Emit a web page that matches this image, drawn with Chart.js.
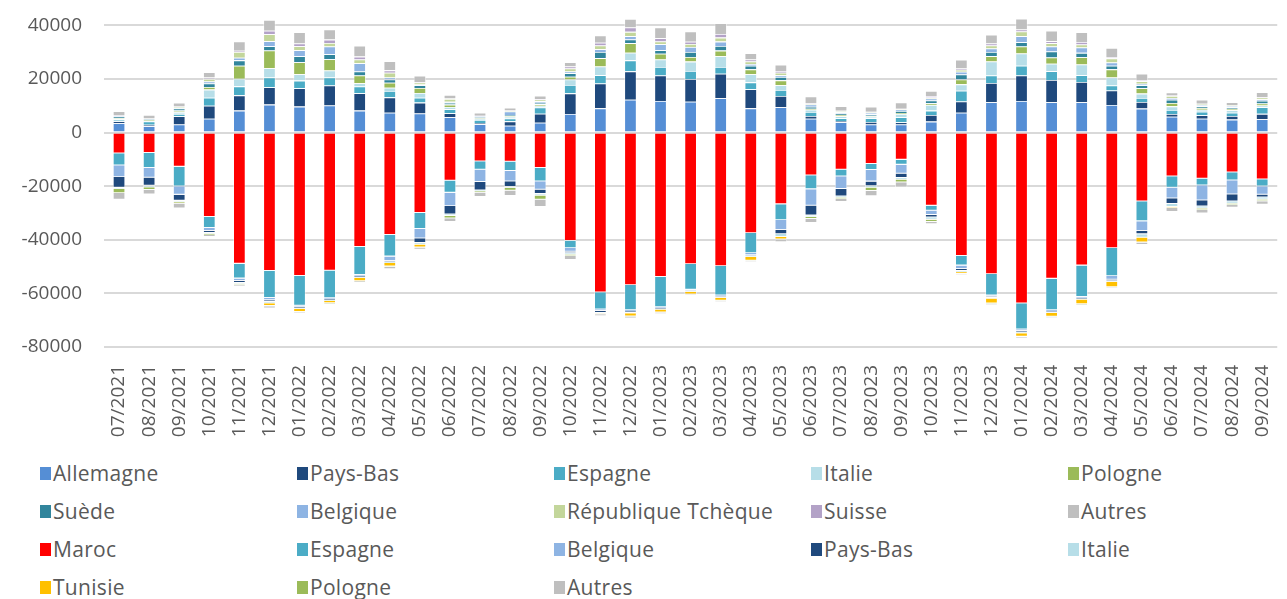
<!DOCTYPE html>
<html lang="fr">
<head>
<meta charset="utf-8">
<script src="https://cdn.jsdelivr.net/npm/chart.js@4"></script>
<style>
  html, body { margin: 0; padding: 0; background: #fff; overflow: hidden; width: 1287px; height: 599px; }
  #wrap { position: absolute; left: 0; top: -8px; width: 1295px; height: 455px; }
  #legende {
    position: absolute; left: 40px; top: 454px; width: 1290px;
    display: grid; grid-template-columns: repeat(5, 257px); grid-auto-rows: 38px;
    font-family: "Open Sans", sans-serif; font-size: 21px; letter-spacing: 0.3px; color: #595959;
  }
  #legende div { display: flex; align-items: center; white-space: nowrap; }
  #legende span.box { display: inline-block; width: 11px; height: 13px; margin-right: 2px; }
</style>
</head>
<body>
<div id="wrap"><canvas id="chartFlux" width="1295" height="455"></canvas></div>
<div id="legende"></div>
<script>
// Mois
const mois = ["07/2021","08/2021","09/2021","10/2021","11/2021","12/2021",
  "01/2022","02/2022","03/2022","04/2022","05/2022","06/2022","07/2022","08/2022","09/2022","10/2022","11/2022","12/2022",
  "01/2023","02/2023","03/2023","04/2023","05/2023","06/2023","07/2023","08/2023","09/2023","10/2023","11/2023","12/2023",
  "01/2024","02/2024","03/2024","04/2024","05/2024","06/2024","07/2024","08/2024","09/2024"];

// Importations (valeurs positives)
const impAllemagne = [3500,2400,3000,5200,8200,10450,9700,10100,8200,7450,7100,5700,3100,2600,3700,6950,9050,12300,11800,11550,12800,9050,9450,5200,3850,3000,3000,4100,7450,11300,11800,11300,11300,10300,8950,5950,5200,4850,5000];
const impPaysBas   = [750,500,3100,4850,5700,6500,6850,7450,6500,5700,4100,1500,500,1600,3350,7700,9300,10550,9550,8450,9200,7100,4200,1000,500,1000,870,2500,4200,7200,9550,8300,7600,5450,2500,1000,1250,1350,2000];
const impEspagne   = [600,1250,900,3000,3350,3600,2850,3000,2500,2350,1850,1500,1100,1100,2350,3100,3100,4100,3100,3000,2500,2600,2250,1500,1000,1350,1850,1600,4000,2850,3600,3350,2500,1850,1500,1500,1350,1250,2500];
const impItalie    = [300,200,750,3000,2850,3500,2350,2600,1250,1250,1750,870,370,620,620,2100,3250,2850,2850,3500,4000,3000,1750,870,750,620,1250,2100,2350,5200,4600,2750,4000,3000,1600,1350,750,870,620];
const impPologne   = [300,250,500,1000,4850,6600,4500,4250,2850,1850,1850,870,250,250,620,1000,3100,3600,2100,1750,2100,1850,1850,300,500,300,370,620,1850,2000,2600,2350,2750,3000,2000,1250,620,620,750];
const impSuede     = [500,350,750,1250,2000,1600,2250,1850,1500,1250,1000,750,500,370,500,1350,2250,1350,1350,1850,1750,1350,1250,750,500,620,750,1100,1850,1500,1600,2250,1600,1350,1100,1250,620,500,1000];
const impBelgique  = [200,200,250,750,1000,1850,2250,2850,3100,750,300,300,250,1350,620,620,1100,1250,2250,1850,1600,620,620,870,500,500,500,750,1000,1350,2250,1850,2000,1250,620,620,500,500,620];
const impTcheque   = [150,100,400,1000,2100,2600,1500,1350,1350,1750,750,1100,150,300,620,1100,1350,1600,1000,1100,1500,1000,1000,300,370,300,200,300,750,1100,1750,1250,1100,1500,870,750,300,250,620];
const impSuisse    = [100,50,100,500,500,1350,1000,1250,1100,870,200,100,100,100,200,750,1000,1600,1250,870,1350,750,620,200,150,100,150,620,500,750,750,750,1000,370,500,200,200,150,200];
const impAutres    = [1600,1250,1400,2000,3500,4000,4250,3750,4100,3400,2350,1350,1100,1000,1200,1600,2750,3200,4000,3850,4000,2350,2350,2500,1750,1850,2350,1850,3250,3250,4000,3850,3600,3500,2350,1100,1500,1000,1750];

// Exportations (valeurs négatives)
const expMaroc     = [-7700,-7500,-12700,-31400,-48900,-51550,-53400,-51500,-42600,-38100,-29900,-17900,-10700,-10800,-13150,-40350,-59600,-56900,-53800,-49050,-49800,-37500,-26700,-15900,-13800,-11600,-10100,-27250,-45950,-52800,-63700,-54500,-49550,-43100,-25600,-16300,-17150,-14800,-17400];
const expEspagne   = [-4500,-5600,-7350,-4100,-5500,-10100,-11100,-10200,-10450,-8100,-6000,-4500,-3100,-3500,-5000,-2750,-6350,-9300,-11300,-9550,-10900,-7450,-5950,-5200,-2500,-2250,-1850,-1850,-3600,-7950,-9700,-11700,-11700,-10450,-7450,-4200,-2500,-3000,-2600];
const expBelgique  = [-4350,-3700,-3100,-1100,-870,-870,-500,-400,-500,-1600,-3500,-5000,-4600,-3850,-3100,-1250,-500,-500,-370,-370,-500,-750,-3600,-6100,-4700,-4350,-3350,-1600,-1250,-370,-500,-500,-500,-1250,-3600,-4000,-5600,-5200,-3100];
const expPaysBas   = [-4000,-3000,-2250,-750,-750,-620,-500,-400,-370,-500,-1750,-3100,-3100,-2100,-1600,-500,-750,-500,-300,-250,-250,-200,-1600,-3700,-2750,-1750,-1600,-870,-750,-500,-620,-300,-250,-620,-1250,-2100,-2250,-2600,-1000];
const expItalie    = [-500,-600,-500,-400,-370,-500,-250,-250,-200,-370,-620,-500,-370,-370,-500,-500,-300,-250,-250,-200,-200,-500,-1000,-620,-500,-500,-620,-870,-500,-250,-370,-300,-250,-250,-1250,-1100,-750,-870,-750];
const expTunisie   = [0,0,-100,-100,-200,-1000,-1100,-870,-1250,-1250,-1000,-100,0,0,-100,-100,-100,-1100,-1000,-870,-1000,-1350,-1000,0,0,0,0,-100,-500,-1850,-1250,-1350,-1750,-2000,-1750,-370,-100,0,-100];
const expPologne   = [-1500,-900,-500,-350,-250,-200,-150,-150,-100,-200,-100,-870,-500,-1000,-1500,-620,-200,-100,-100,-100,-100,-100,-100,-620,-500,-1250,-1000,-750,-100,-100,-100,-100,-100,-100,-100,-100,-500,-500,-620];
const expAutres    = [-2400,-1700,-1750,-650,-500,-750,-400,-400,-620,-750,-750,-1350,-1600,-2000,-2700,-1350,-620,-620,-500,-370,-370,-370,-870,-1500,-1100,-2000,-1850,-870,-370,-500,-370,-370,-370,-370,-870,-1350,-1250,-1000,-1250];

// Couleurs
const C = {
  bleu: "#558ed5", marine: "#1f497d", turquoise: "#4bacc6", pale: "#b7dee8",
  vert: "#9bbb59", sarcelle: "#31859c", ciel: "#8eb4e3", vertClair: "#c3d69b",
  lavande: "#b3a2c7", gris: "#bfbfbf", rouge: "#ff0000", jaune: "#ffc000"
};

const series = [
  ["Allemagne", impAllemagne, C.bleu],
  ["Pays-Bas", impPaysBas, C.marine],
  ["Espagne", impEspagne, C.turquoise],
  ["Italie", impItalie, C.pale],
  ["Pologne", impPologne, C.vert],
  ["Suède", impSuede, C.sarcelle],
  ["Belgique", impBelgique, C.ciel],
  ["République Tchèque", impTcheque, C.vertClair],
  ["Suisse", impSuisse, C.lavande],
  ["Autres", impAutres, C.gris],
  ["Maroc", expMaroc, C.rouge],
  ["Espagne", expEspagne, C.turquoise],
  ["Belgique", expBelgique, C.ciel],
  ["Pays-Bas", expPaysBas, C.marine],
  ["Italie", expItalie, C.pale],
  ["Tunisie", expTunisie, C.jaune],
  ["Pologne", expPologne, C.vert],
  ["Autres", expAutres, C.gris]
];

// les barres > 40000 dépassent du cadre comme dans l'original
const datasets = series.map(([label, data, color]) => ({
  label: label,
  data: data,
  backgroundColor: color,
  borderColor: "rgba(255,255,255,0.7)",
  borderWidth: 0.8,
  clip: false,
  stack: "s"
}));

const gris = "#595959";

new Chart(document.getElementById("chartFlux"), {
  type: "bar",
  data: { labels: mois, datasets: datasets },
  options: {
    responsive: false,
    animation: false,
    categoryPercentage: 1,
    barPercentage: 0.41,
    layout: { padding: { top: 8, right: 0, left: 0, bottom: 0 } },
    plugins: { legend: { display: false }, tooltip: { enabled: false } },
    scales: {
      x: {
        stacked: true,
        grid: { display: false },
        border: { display: false },
        ticks: {
          color: gris, font: { family: "Open Sans", size: 19 },
          minRotation: 90, maxRotation: 90, autoSkip: false, padding: 10
        },
        afterFit: (s) => { s.height = 100; }
      },
      y: {
        stacked: true,
        min: -80000, max: 40000,
        border: { display: false },
        grid: { color: "#d9d9d9", lineWidth: 2, drawTicks: false },
        ticks: {
          stepSize: 20000, color: gris, padding: 22,
          font: { family: "Open Sans", size: 19 },
          callback: (v) => String(v)
        },
        afterFit: (s) => { s.width = 104; }
      }
    }
  }
});

// Légende en grille (5 colonnes)
const leg = document.getElementById("legende");
leg.innerHTML = series.map(([label, , color]) =>
  `<div><span class="box" style="background:${color}"></span>${label}</div>`
).join("");
</script>
</body>
</html>
